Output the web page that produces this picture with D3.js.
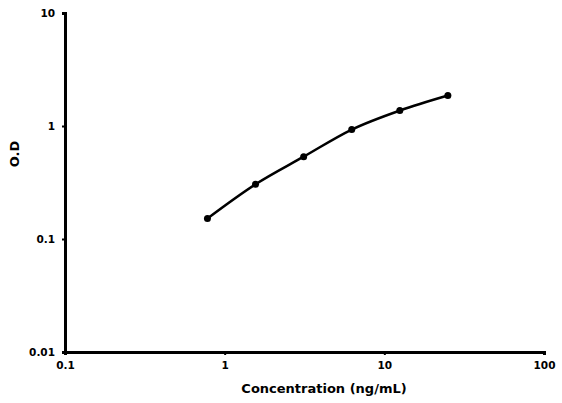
<!DOCTYPE html>
<html>
    <head>
        <script src="https://d3js.org/d3.v7.min.js"></script>
        <style>
          body { margin: 0; background: #fff; }
          #chart { width: 562px; height: 403px; }
          text { font-family: "DejaVu Sans", Verdana, sans-serif; font-weight: bold; fill: #000; }
        </style>
    </head>
    <body>
        <div id="chart"></div>
        <script>

            /* DATA */
            var concentration = [0.78, 1.56, 3.125, 6.25, 12.5, 25];
            var od = [0.152, 0.305, 0.535, 0.93, 1.37, 1.86];
            var xTicks = [0.1, 1, 10, 100];
            var yTicks = [0.01, 0.1, 1, 10];

            var width = 562, height = 403;
            var margin = {left: 65, right: 18, top: 13, bottom: 51};

            var svg = d3.select("#chart")
                .append("svg")
                .attr("width", width)
                .attr("height", height);

            var x = d3.scaleLog().domain([0.1, 100]).range([margin.left, width - margin.right]);
            var y = d3.scaleLog().domain([0.01, 10]).range([height - margin.bottom, margin.top]);

            /* AXES */
            svg.append("g")
                .attr("transform", "translate(0," + (height - margin.bottom) + ")")
                .call(d3.axisBottom(x).tickValues(xTicks).tickFormat(d3.format("~g")).tickSize(3).tickPadding(7));

            svg.append("g")
                .attr("transform", "translate(" + margin.left + ",0)")
                .call(d3.axisLeft(y).tickValues(yTicks).tickFormat(d3.format("~g")).tickSize(3).tickPadding(7));

            svg.selectAll(".domain").attr("stroke", "#000").attr("stroke-width", 3);
            svg.selectAll(".tick line").attr("stroke", "#000").attr("stroke-width", 2);
            svg.selectAll(".tick text").style("font-size", "10.5px");

            // axis titles
            svg.append("text")
                .attr("x", 324)
                .attr("y", 393)
                .attr("text-anchor", "middle")
                .style("font-size", "13px")
                .text("Concentration (ng/mL)");

            svg.append("text")
                .attr("transform", "translate(19,154) rotate(-90)")
                .attr("text-anchor", "middle")
                .style("font-size", "13px")
                .text("O.D");

            /* CURVE */
            var points = concentration.map(function(c, i) { return {c: c, v: od[i]}; });

            var line = d3.line()
                .x(function(d) { return x(d.c); })
                .y(function(d) { return y(d.v); })
                .curve(d3.curveMonotoneX);

            svg.append("path")
                .datum(points)
                .attr("fill", "none")
                .attr("stroke", "#000")
                .attr("stroke-width", 2.5)
                .attr("d", line);

            svg.append("g")
                .selectAll("circle")
                .data(points)
                .enter()
                .append("circle")
                    .attr("cx", function(d) { return x(d.c); })
                    .attr("cy", function(d) { return y(d.v); })
                    .attr("r", 3.5)
                    .attr("fill", "#000");

        </script>
    </body>
</html>
